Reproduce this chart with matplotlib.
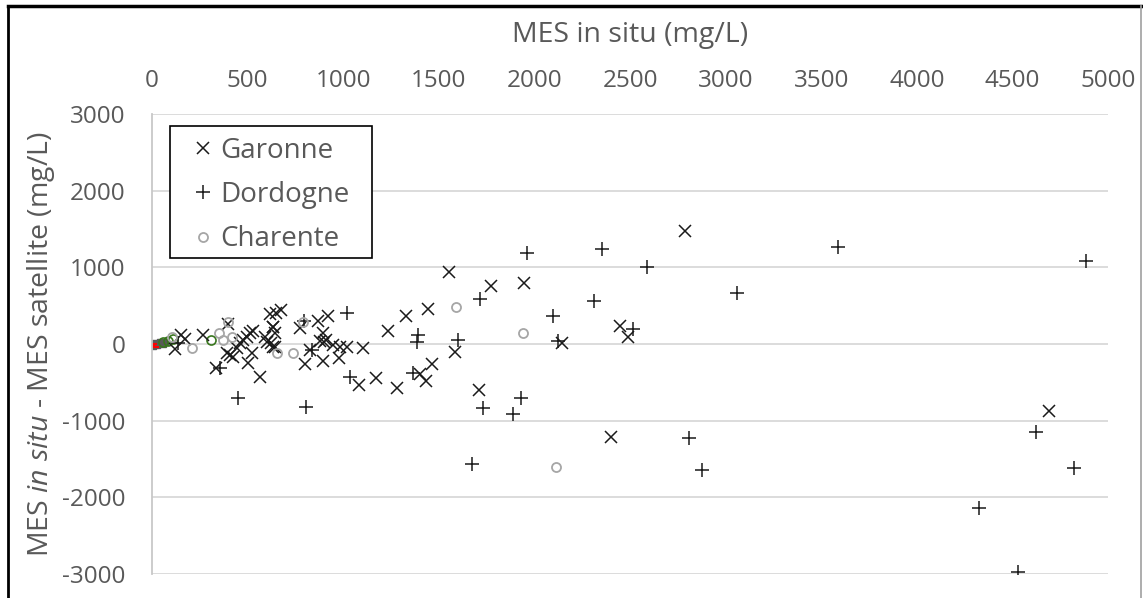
import matplotlib
matplotlib.use("Agg")
import matplotlib.pyplot as plt
from matplotlib.lines import Line2D
from matplotlib.patches import Rectangle

# ---------------- data ----------------
garonne_x = [1553, 1773, 1947, 2448, 2491, 1585, 2143, 1710, 2401, 2788, 4692,
             1236, 1328, 1445, 1172, 1280, 1402, 1431, 1466, 1084,
             922, 870, 774, 896, 880, 900, 910, 826, 948, 983, 1018, 1105, 800, 893, 978,
             150, 120, 269, 399, 335, 390, 408, 425, 443, 460, 477, 495, 512, 530, 504,
             565, 525, 591, 622, 643, 631, 617, 647, 675, 634, 643, 600, 634, 175]
garonne_y = [943, 760, 800, 235, 95, -100, 17, -600, -1212, 1473, -869,
             169, 365, 456, -439, -578, -391, -478, -261, -535,
             369, 304, 205, 147, 40, 20, 50, -78, -13, -35, -43, -48, -261, -218, -178,
             120, -70, 117, 257, -317, -121, -143, -165, -56, 9, 52, 95, 139, 173, -243,
             -426, -113, 95, 9, -43, 226, 391, 408, 443, 217, 139, 30, -35, 60]

dordogne_x = [1961, 2355, 1715, 2312, 2099, 2517, 1600, 2125, 1733, 1930, 1890,
              1389, 1384, 1363, 2587, 3590, 3061, 2809, 2875, 4883, 4623, 4824,
              4325, 4531, 1018, 795, 1036, 805, 451, 356, 835, 136, 1674]
dordogne_y = [1191, 1238, 583, 565, 365, 191, 50, 43, -838, -708, -917,
              117, 30, -374, 1008, 1260, 669, -1230, -1643, 1082, -1143, -1621,
              -2142, -2969, 400, 304, -434, -817, -708, -317, -78, 13, -1560]

charente_x = [1590, 1942, 103, 211, 350, 373, 420, 399, 655, 736, 788, 2113]
charente_y = [478, 139, 95, -56, 139, 52, 95, 291, -121, -121, 283, -1610]

# small unlabelled series clustered at the origin
other1_x = [5, 15, 25, 40, 55, 70]
other1_y = [-20, 10, -10, 20, 0, 30]
other2_x = [0, 10, 22]
other2_y = [-30, 0, -40]
other3_x = [60, 85, 110, 309]
other3_y = [20, 40, 60, 52]

x_ticks = [0, 500, 1000, 1500, 2000, 2500, 3000, 3500, 4000, 4500, 5000]
y_ticks = [-3000, -2000, -1000, 0, 1000, 2000, 3000]

# ---------------- style ----------------
plt.rcParams['font.family'] = ['Open Sans', 'DejaVu Sans']
plt.rcParams['mathtext.fontset'] = 'custom'
plt.rcParams['mathtext.rm'] = 'Open Sans'
plt.rcParams['mathtext.it'] = 'Open Sans:italic'
plt.rcParams['axes.unicode_minus'] = False

W, H = 1143, 598
fig = plt.figure(figsize=(W / 100, H / 100), dpi=100)
L, B, AW, AH = 152, 574, 956, 460
ax = fig.add_axes([L / W, (H - B) / H, AW / W, AH / H])

txt = '#595959'
grid = '#d9d9d9'
fs_tick = 17.5
fs_title = 20.5
fs_leg = 20

ax.plot(other1_x, other1_y, linestyle='none', marker='s', ms=5, color='#595959')
ax.plot(other2_x, other2_y, linestyle='none', marker='_', ms=5, color='red', mew=1.5)
ax.plot(other3_x, other3_y, linestyle='none', marker='o', ms=6.5, mfc='none', mec='#38761d', mew=1.2)

ax.plot(garonne_x, garonne_y, linestyle='none', marker='x', ms=9, mew=1.1,
        color='#1a1a1a', label='Garonne')
ax.plot(dordogne_x, dordogne_y, linestyle='none', marker='+', ms=10, mew=1.1,
        color='#1a1a1a', label='Dordogne')
ax.plot(charente_x, charente_y, linestyle='none', marker='o', ms=6.5, mfc='none',
        mec='#a6a6a6', mew=1.3, label='Charente')

ax.set_xlim(0, 5000)
ax.set_ylim(-3000, 3000)
ax.set_xticks(x_ticks)
ax.set_yticks(y_ticks)
ax.xaxis.tick_top()
ax.xaxis.set_label_position('top')
ax.tick_params(axis='both', length=0, labelsize=fs_tick, labelcolor=txt)
ax.tick_params(axis='x', pad=15)
ax.tick_params(axis='y', pad=19)

ax.yaxis.grid(True, color=grid, lw=1.3)
ax.set_axisbelow(True)
for s in ['top', 'right', 'bottom']:
    ax.spines[s].set_visible(False)
ax.spines['left'].set_color('#c8c8c8')
ax.spines['left'].set_linewidth(1.3)

ax.set_xlabel('MES in situ (mg/L)', fontsize=fs_title, color=txt)
ax.xaxis.set_label_coords(0.5, (B - 35) / AH)
ax.xaxis.label.set_va('center')
ax.set_ylabel(r'MES $\mathit{in\ situ}$ - MES satellite (mg/L)', fontsize=fs_title, color=txt)
ax.yaxis.set_label_coords((41 - L) / AW, 0.5)
ax.yaxis.label.set_va('center')
ax.yaxis.label.set_ha('center')

# legend frame (drawn as a box) and legend entries
box = Rectangle(((170 - L) / AW, (B - 258) / AH), 202 / AW, 132 / AH,
                transform=ax.transAxes, facecolor='white', edgecolor='black',
                lw=1.2, zorder=5)
ax.add_patch(box)
leg = ax.legend(loc='upper left', bbox_to_anchor=((192 - L) / AW, (B - 137) / AH),
                fontsize=fs_leg, frameon=False, borderpad=0, borderaxespad=0,
                labelspacing=0.58, handletextpad=0.2, handlelength=0.8)
leg.set_zorder(6)
for t in leg.get_texts():
    t.set_color(txt)

# outer border of the picture
fig.add_artist(Line2D([8 / W, 8 / W], [0, 1 - 6 / H], color='black', lw=2))
fig.add_artist(Line2D([8 / W, 1142 / W], [1 - 6 / H, 1 - 6 / H], color='black', lw=2.5))
fig.add_artist(Line2D([1141 / W, 1141 / W], [0, 1 - 6 / H], color='#a0a0a0', lw=1.2))

fig.savefig('out.png', dpi=100)
